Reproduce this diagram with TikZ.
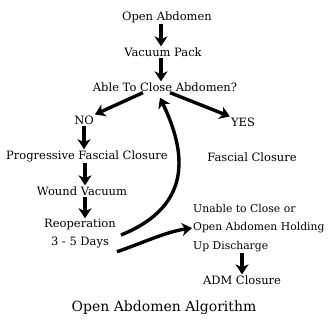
\documentclass[tikz,border=0pt]{standalone}
\usepackage{fontspec}
\setmainfont{DejaVu Serif}
\usetikzlibrary{arrows.meta}

\begin{document}
\begin{tikzpicture}[x=1pt,y=-1pt,
  step text/.style={inner sep=1pt,font=\fontsize{11.5}{18}\selectfont},
  flow/.style={line width=3.4pt,-{Stealth[length=10pt,width=13pt,inset=3pt]}}]
\useasboundingbox (0,0) rectangle (329,322);
\node [step text] (open) at (167,17) {Open Abdomen};
\node [step text] (vacuum) at (163,52) {Vacuum Pack};
\node [step text] (able) at (165,87) {Able To Close Abdomen?};
\node [step text] (no) at (84,120) {NO};
\node [step text] (yes) at (243,122) {YES};
\node [step text] (prog) at (87,156) {Progressive Fascial Closure};
\node [step text] (fascial) at (252,157) {Fascial Closure};
\node [step text] (wound) at (82,191) {Wound Vacuum};
\node [step text,align=center] (reop) at (80,234) {Reoperation\\3 - 5 Days};
\node [step text,align=left,anchor=west,font=\fontsize{10.8}{18.5}\selectfont] (unable) at (192,228) {Unable to Close or\\Open Abdomen Holding\\Up Discharge};
\node [step text] (adm) at (242,280) {ADM Closure};
\node [inner sep=1pt,font=\fontsize{14}{16}\selectfont] (title) at (164,308) {Open Abdomen Algorithm};
\draw [flow] ([xshift=-6pt]open.south) -- ([xshift=-2pt]vacuum.north);
\draw [flow] ([xshift=-2pt]vacuum.south) -- ([xshift=-4pt]able.north);
\draw [flow] ([xshift=-22pt]able.south) -- (no.north east);
\draw [flow] ([xshift=5pt]able.south) -- (yes.north west);
\draw [flow] (no.south) -- (no.south |- prog.north);
\draw [flow] ([xshift=3pt]wound.north |- prog.south) -- ([xshift=3pt]wound.north);
\draw [flow] ([xshift=3pt]wound.south) -- ([xshift=5pt]reop.north);
\draw [flow] ([xshift=4pt,yshift=-1pt]reop.east) .. controls (195,205) and (185,150) .. ([xshift=-5pt,yshift=-5pt]able.south);
\draw [flow] ([yshift=-2pt]reop.south east) .. controls (140,244) and (165,232) .. (unable.west);
\draw [flow] (adm.north |- unable.south) -- (adm.north);
\end{tikzpicture}
\end{document}
